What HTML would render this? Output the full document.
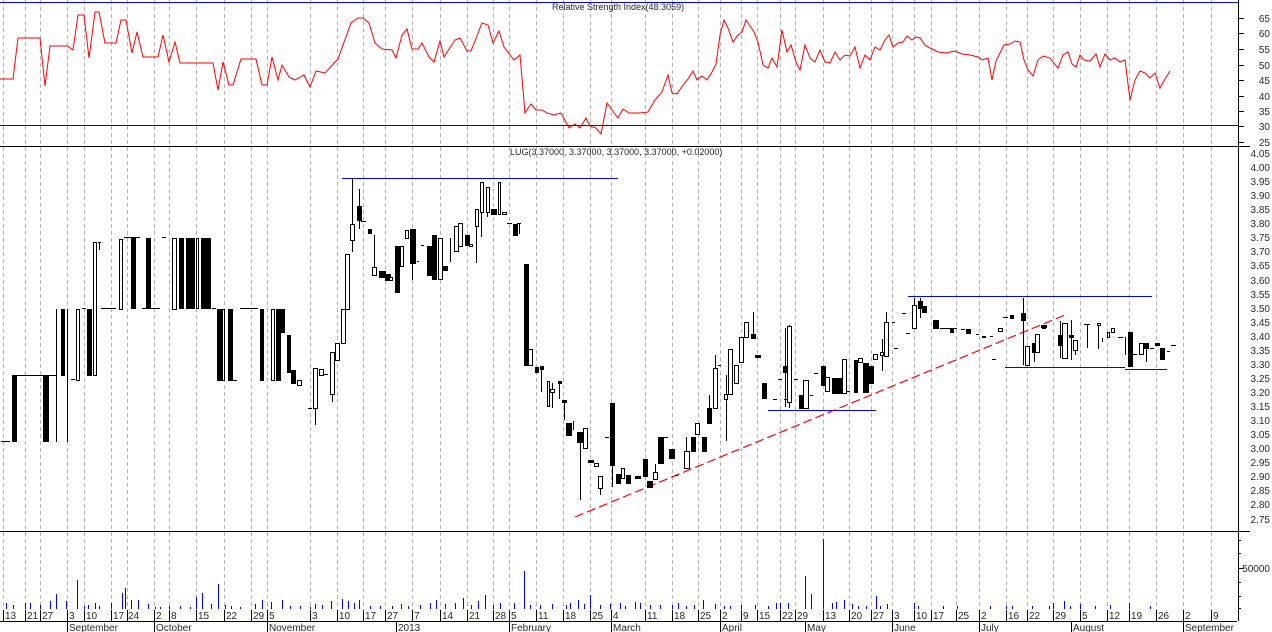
<!DOCTYPE html>
<html><head><meta charset="utf-8"><style>
html,body{margin:0;padding:0;background:#fff;}
svg{display:block;font-family:"Liberation Sans",Arial,sans-serif;}
.g{stroke:#b4b4b4;stroke-width:1;stroke-dasharray:4,3;}
.f{fill:#000;stroke:#000;stroke-width:1;}
.h{fill:#fff;stroke:#000;stroke-width:1;}
.w{stroke:#000;stroke-width:1;fill:none;}
.lab{font-size:10px;fill:#2a2a2a;}
</style></head><body>
<svg width="1272" height="632" viewBox="0 0 1272 632" xmlns="http://www.w3.org/2000/svg">
<defs>
<pattern id="pr" width="8" height="2.812" patternUnits="userSpaceOnUse" patternTransform="translate(0,153.5)"><line x1="1238" y1="0.5" x2="1241" y2="0.5" stroke="#000"/></pattern>
<pattern id="rs" width="8" height="3.09" patternUnits="userSpaceOnUse" patternTransform="translate(0,18.5)"><line x1="1238" y1="0.5" x2="1241" y2="0.5" stroke="#000"/></pattern>
</defs>
<rect width="1272" height="632" fill="#fff"/>
<!-- gridlines -->
<g class="g">
<path d="M3.5 0V621M25.5 0V621M40.5 0V621M67.5 0V621M84.5 0V621M111.5 0V621M127.5 0V621M154.5 0V621M169.5 0V621M196.5 0V621M224.5 0V621M251.5 0V621M267.5 0V621M310.5 0V621M337.5 0V621M363.5 0V621M385.5 0V621M412.5 0V621M440.5 0V621M467.5 0V621M493.5 0V621M509.5 0V621M536.5 0V621M563.5 0V621M590.5 0V621M611.5 0V621M645.5 0V621M672.5 0V621M698.5 0V621M720.5 0V621M741.5 0V621M757.5 0V621M780.5 0V621M795.5 0V621M823.5 0V621M849.5 0V621M871.5 0V621M892.5 0V621M914.5 0V621M931.5 0V621M956.5 0V621M979.5 0V621M1006.5 0V621M1027.5 0V621M1053.5 0V621M1080.5 0V621M1107.5 0V621M1129.5 0V621M1156.5 0V621M1183.5 0V621M1211.5 0V621"/>
</g>
<!-- RSI panel -->
<line x1="0" y1="2.5" x2="1238" y2="2.5" stroke="#0000ff"/>
<line x1="0" y1="125.5" x2="1238" y2="125.5" stroke="#0000ff"/>
<polyline fill="none" stroke="#ff0000" stroke-width="1" points="0,79 13,79 18,38 40,38 45,86 50,46 67,46 73,50 78,15 84,15 89,58 95,12 99,12 105,43 116,43 121,20 126,20 132,53 137,32 143,57 158,57 163,35 169,62 175,42 180,63 213,63 218,90 223,62 229,85 233,85 241,59 256,59 262,85 267,85 272,57 278,80 282,65 289,77 295,80 304,75 310,87 316,71 325,73 338,59 351,23 358,18 363,18 369,23 375,43 382,49 392,50 396,58 402,35 407,29 412,49 418,49 422,43 429,57 434,62 440,41 444,57 455,40 460,38 467,51 471,51 482,23 488,25 493,43 499,31 504,47 514,60 520,55 525,113 531,104 536,110 542,110 547,113 554,115 561,113 569,128 575,124 580,128 586,118 590,126 596,128 601,134 607,103 612,110 618,118 623,109 629,113 640,113 648,112 655,100 662,92 668,75 672,93 677,94 683,85 688,79 693,71 697,80 702,76 707,80 712,72 716,64 720,35 724,20 728,28 733,42 738,35 742,32 746,20 750,26 754,32 758,42 763,65 768,68 772,58 777,67 782,30 787,52 791,45 796,62 800,70 805,45 810,58 815,62 820,50 825,62 830,63 835,52 840,60 845,55 850,56 855,47 860,68 865,55 870,60 875,47 880,50 885,40 889,35 893,47 898,43 903,42 907,36 912,40 916,37 920,38 925,45 930,48 938,52 946,53 955,51 962,54 970,55 978,57 982,60 988,58 992,80 996,61 1004,45 1010,44 1015,41 1020,42 1024,60 1028,70 1033,76 1038,60 1043,56 1050,58 1058,68 1063,55 1068,52 1072,64 1076,67 1080,55 1084,60 1090,61 1096,54 1100,67 1105,54 1110,60 1115,58 1120,62 1125,60 1130,100 1135,80 1140,71 1145,73 1150,78 1155,73 1160,88 1165,79 1170,71"/>
<text x="552" y="10" class="lab" font-size="9" style="font-size:9px">Relative Strength Index(48.3059)</text>
<line x1="0" y1="146.5" x2="1250" y2="146.5" stroke="#000"/>
<text x="510" y="155" class="lab" style="font-size:9px">LUG(3.37000, 3.37000, 3.37000, 3.37000, +0.02000)</text>
<!-- blue levels -->
<g stroke="#0000ff" stroke-width="1">
<line x1="342" y1="178.5" x2="618" y2="178.5"/>
<line x1="768" y1="410.5" x2="876" y2="410.5"/>
<line x1="908" y1="296.5" x2="1152" y2="296.5"/>
<line x1="1005" y1="367.5" x2="1125" y2="367.5"/>
<line x1="1125" y1="369.5" x2="1167" y2="369.5"/>
</g>
<line x1="575" y1="517" x2="1065" y2="315" stroke="#ff0000" stroke-width="1.2" stroke-dasharray="9,4"/>
<!-- wicks -->
<path class="w" d="M56.5 309V442M67.5 309V442M352.5 178V252M359.5 189V229M374.5 235V271M412.5 263V280M450.5 238V262M476.5 222V263M481.5 212V237M487.5 212V217M519.5 223V234M541.5 366V392M548.5 381V406M552.5 383V408M559.5 381V399M564.5 400V420M573.5 421V430M580.5 432V500M585.5 428V448M600.5 488V495M612.5 465V487M655.5 464V472M686.5 437V451M709.5 395V408M715.5 355V368M726.5 375V441M753.5 312V334M785.5 328V407M789.5 325V408M882.5 339V371M886.5 312V322M914.5 298V318M920.5 298V318M1023.5 298V365M1034.5 352V362M1060.5 321V358M1071.5 320V360M1075.5 350V355M1087.5 325V348M1098.5 325V349M1102.5 338V342M1125.5 337V355M1146.5 348V362M315.5 408V425M332.5 394V402M99.5 242V250"/>
<!-- dashes -->
<path class="w" d="M1 441.5H10M17 375.5H43M48 375.5H56M71 379.5H75M82 308.5H86M98 242.5H101M101 308.5H116M124 237.5H140M142 308.5H160M162 237.5H166M212 308.5H216M232 380.5H237M240 308.5H258M298 380.5H302M308 408.5H312M324 374.5H328M361 221.5H366M417 261.5H419M421 245.5H424M507 223.5H512M517 223.5H521M605 437.5H609M664 437.5H668M675 475.5H678M718 365.5H721M778 379.5H782M773 399.5H777M784 399.5H788M794 379.5H798M810 395.5H813M814 373.5H818M847 391.5H850M892 322.5H895M894 348.5H898M902 313.5H906M906 333.5H910M940 328.5H957M961 329.5H965M976 334.5H979M990 336.5H993M1003 317.5H1008M992 359.5H996M1042 328.5H1046M1084 324.5H1090M1118 337.5H1123M1133 354.5H1137M1150 348.5H1154M1167 351.5H1170M1171 345.5H1176"/>
<!-- filled bodies -->
<g class="f">
<rect x="12.5" y="375.5" width="4" height="66"/><rect x="43.5" y="375.5" width="5" height="66"/><rect x="61.5" y="309.5" width="3" height="66"/><rect x="87.5" y="309.5" width="4" height="66"/><rect x="131.5" y="238.5" width="4" height="70"/><rect x="146.5" y="238.5" width="4" height="70"/><rect x="179.5" y="238.5" width="4" height="70"/><rect x="186.5" y="238.5" width="3" height="70"/><rect x="190.5" y="238.5" width="4" height="70"/><rect x="201.5" y="238.5" width="9" height="70"/><rect x="217.5" y="309.5" width="5" height="71"/><rect x="228.5" y="309.5" width="4" height="71"/><rect x="260.5" y="309.5" width="3" height="71"/><rect x="276.5" y="309.5" width="4" height="71"/><rect x="280.5" y="309.5" width="4" height="23"/><rect x="287.5" y="335.5" width="3" height="37"/><rect x="291.5" y="370.5" width="4" height="13"/><rect x="357.5" y="206.5" width="4" height="14"/><rect x="368.5" y="229.5" width="3" height="4"/><rect x="379.5" y="271.5" width="6" height="6"/><rect x="385.5" y="274.5" width="5" height="6"/><rect x="395.5" y="246.5" width="4" height="46"/><rect x="410.5" y="229.5" width="5" height="34"/><rect x="427.5" y="246.5" width="4" height="29"/><rect x="432.5" y="235.5" width="4" height="44"/><rect x="443.5" y="266.5" width="4" height="4"/><rect x="465.5" y="235.5" width="4" height="10"/><rect x="491.5" y="209.5" width="5" height="5"/><rect x="513.5" y="224.5" width="4" height="11"/><rect x="524.5" y="264.5" width="4" height="101"/><rect x="535.5" y="367.5" width="3" height="5"/><rect x="540.5" y="366.5" width="3" height="3"/><rect x="558.5" y="381.5" width="3" height="2"/><rect x="562.5" y="400.5" width="4" height="2"/><rect x="566.5" y="423.5" width="5" height="12"/><rect x="577.5" y="432.5" width="5" height="10"/><rect x="588.5" y="460.5" width="5" height="2"/><rect x="610.5" y="403.5" width="4" height="62"/><rect x="616.5" y="474.5" width="4" height="9"/><rect x="626.5" y="475.5" width="4" height="8"/><rect x="635.5" y="476.5" width="5" height="2"/><rect x="643.5" y="459.5" width="4" height="17"/><rect x="647.5" y="481.5" width="5" height="6"/><rect x="658.5" y="437.5" width="5" height="26"/><rect x="669.5" y="449.5" width="5" height="9"/><rect x="691.5" y="437.5" width="4" height="14"/><rect x="702.5" y="437.5" width="4" height="14"/><rect x="707.5" y="408.5" width="4" height="15"/><rect x="751.5" y="334.5" width="4" height="4"/><rect x="755.5" y="355.5" width="5" height="2"/><rect x="762.5" y="383.5" width="4" height="15"/><rect x="783.5" y="366.5" width="4" height="6"/><rect x="799.5" y="395.5" width="5" height="13"/><rect x="821.5" y="366.5" width="4" height="19"/><rect x="832.5" y="378.5" width="9" height="15"/><rect x="854.5" y="360.5" width="3" height="32"/><rect x="863.5" y="363.5" width="5" height="29"/><rect x="869.5" y="366.5" width="4" height="17"/><rect x="918.5" y="301.5" width="4" height="7"/><rect x="922.5" y="306.5" width="4" height="6"/><rect x="933.5" y="320.5" width="5" height="8"/><rect x="950.5" y="329.5" width="3" height="3"/><rect x="966.5" y="329.5" width="4" height="4"/><rect x="982.5" y="336.5" width="3" height="1"/><rect x="1010.5" y="315.5" width="3" height="3"/><rect x="1021.5" y="313.5" width="4" height="7"/><rect x="1032.5" y="343.5" width="3" height="9"/><rect x="1041.5" y="325.5" width="5" height="2"/><rect x="1058.5" y="335.5" width="5" height="10"/><rect x="1069.5" y="335.5" width="4" height="2"/><rect x="1128.5" y="332.5" width="4" height="34"/><rect x="1144.5" y="343.5" width="4" height="5"/><rect x="1155.5" y="343.5" width="4" height="2"/><rect x="1160.5" y="348.5" width="4" height="11"/>
</g>
<!-- hollow bodies -->
<g class="h">
<rect x="76.5" y="309.5" width="3" height="71"/><rect x="93.5" y="242.5" width="3" height="133"/><rect x="119.5" y="239.5" width="3" height="70"/><rect x="172.5" y="238.5" width="4" height="71"/><rect x="196.5" y="238.5" width="2" height="70"/><rect x="222.5" y="309.5" width="2" height="71"/><rect x="271.5" y="309.5" width="3" height="71"/><rect x="297.5" y="380.5" width="4" height="5"/><rect x="313.5" y="368.5" width="4" height="40"/><rect x="319.5" y="369.5" width="4" height="6"/><rect x="330.5" y="352.5" width="4" height="42"/><rect x="335.5" y="343.5" width="4" height="17"/><rect x="341.5" y="309.5" width="4" height="34"/><rect x="345.5" y="254.5" width="4" height="55"/><rect x="350.5" y="224.5" width="4" height="16"/><rect x="372.5" y="267.5" width="4" height="8"/><rect x="389.5" y="277.5" width="3" height="3"/><rect x="400.5" y="246.5" width="3" height="20"/><rect x="405.5" y="230.5" width="3" height="8"/><rect x="438.5" y="238.5" width="4" height="41"/><rect x="454.5" y="226.5" width="4" height="25"/><rect x="458.5" y="223.5" width="4" height="23"/><rect x="469.5" y="244.5" width="3" height="2"/><rect x="475.5" y="209.5" width="3" height="17"/><rect x="480.5" y="182.5" width="3" height="30"/><rect x="486.5" y="187.5" width="3" height="25"/><rect x="498.5" y="182.5" width="2" height="32"/><rect x="502.5" y="212.5" width="4" height="2"/><rect x="528.5" y="349.5" width="4" height="16"/><rect x="547.5" y="381.5" width="2" height="25"/><rect x="550.5" y="389.5" width="4" height="3"/><rect x="583.5" y="428.5" width="4" height="20"/><rect x="594.5" y="463.5" width="4" height="3"/><rect x="598.5" y="476.5" width="4" height="12"/><rect x="621.5" y="468.5" width="3" height="10"/><rect x="653.5" y="472.5" width="4" height="7"/><rect x="684.5" y="451.5" width="5" height="17"/><rect x="695.5" y="423.5" width="4" height="11"/><rect x="713.5" y="368.5" width="4" height="40"/><rect x="724.5" y="394.5" width="3" height="5"/><rect x="728.5" y="349.5" width="4" height="45"/><rect x="734.5" y="365.5" width="4" height="18"/><rect x="739.5" y="337.5" width="4" height="25"/><rect x="744.5" y="322.5" width="4" height="15"/><rect x="787.5" y="326.5" width="4" height="76"/><rect x="803.5" y="380.5" width="5" height="28"/><rect x="825.5" y="377.5" width="4" height="14"/><rect x="842.5" y="359.5" width="4" height="34"/><rect x="858.5" y="358.5" width="4" height="4"/><rect x="873.5" y="354.5" width="4" height="5"/><rect x="880.5" y="352.5" width="3" height="3"/><rect x="884.5" y="322.5" width="4" height="34"/><rect x="912.5" y="305.5" width="4" height="23"/><rect x="998.5" y="328.5" width="4" height="3"/><rect x="1025.5" y="346.5" width="4" height="19"/><rect x="1035.5" y="334.5" width="4" height="18"/><rect x="1062.5" y="323.5" width="5" height="35"/><rect x="1073.5" y="340.5" width="4" height="10"/><rect x="1097.5" y="323.5" width="3" height="2"/><rect x="1107.5" y="332.5" width="2" height="5"/><rect x="1111.5" y="328.5" width="3" height="4"/><rect x="1139.5" y="343.5" width="4" height="11"/>
</g>
<line x1="0" y1="531.5" x2="1250" y2="531.5" stroke="#000"/>
<!-- volume -->
<path stroke="#0000ff" stroke-width="1" fill="none" d="M6.5 609V603M13.5 609V605M25.5 609V603M30.5 609V603M40.5 609V605M50.5 609V601M56.5 609V594M66.5 609V601M77.5 609V580M84.5 609V606M88.5 609V605M95.5 609V603M99.5 609V606M111.5 609V603M122.5 609V593M125.5 609V588M131.5 609V600M138.5 609V600M148.5 609V604M155.5 609V607M160.5 609V607M169.5 609V606M180.5 609V606M190.5 609V607M196.5 609V597M202.5 609V593M211.5 609V604M218.5 609V584M225.5 609V605M231.5 609V606M240.5 609V607M255.5 609V604M262.5 609V600M271.5 609V602M282.5 609V600M290.5 609V606M300.5 609V606M310.5 609V607M315.5 609V604M322.5 609V605M331.5 609V601M342.5 609V599M348.5 609V601M354.5 609V603M359.5 609V600M370.5 609V606M380.5 609V606M392.5 609V606M401.5 609V604M408.5 609V606M420.5 609V605M430.5 609V603M436.5 609V600M445.5 609V604M455.5 609V603M463.5 609V598M471.5 609V605M478.5 609V601M485.5 609V595M493.5 609V605M500.5 609V603M514.5 609V603M524.5 609V571M530.5 609V605M540.5 609V605M552.5 609V604M566.5 609V605M570.5 609V603M578.5 609V600M584.5 609V604M590.5 609V595M600.5 609V605M610.5 609V604M620.5 609V603M625.5 609V606M635.5 609V602M640.5 609V603M650.5 609V605M660.5 609V605M672.5 609V605M678.5 609V603M686.5 609V606M694.5 609V605M703.5 609V600M715.5 609V604M724.5 609V606M730.5 609V606M741.5 609V605M755.5 609V605M768.5 609V606M776.5 609V603M780.5 609V603M788.5 609V603M805.5 609V576M811.5 609V594M823.5 609V539M832.5 609V603M836.5 609V602M844.5 609V600M852.5 609V604M858.5 609V606M866.5 609V606M876.5 609V596M880.5 609V606M887.5 609V604M914.5 609V603M918.5 609V606M943.5 609V606M957.5 609V606M990.5 609V606M1006.5 609V606M1012.5 609V606M1032.5 609V606M1049.5 609V606M1053.5 609V603M1064.5 609V601M1070.5 609V606M1080.5 609V604M1095.5 609V606M1110.5 609V605M1129.5 609V603M1150.5 609V606"/>
<!-- date axis -->
<line x1="0" y1="621.5" x2="1237" y2="621.5" stroke="#000"/>
<path class="w" d="M3.5 610V621M25.5 610V621M40.5 610V621M67.5 610V632M84.5 610V621M111.5 610V621M127.5 610V621M154.5 610V632M169.5 610V621M196.5 610V621M224.5 610V621M251.5 610V621M267.5 610V632M310.5 610V621M337.5 610V621M363.5 610V621M385.5 610V621M396.5 621V632M412.5 610V621M440.5 610V621M467.5 610V621M493.5 610V621M509.5 610V632M536.5 610V621M563.5 610V621M590.5 610V621M611.5 610V632M645.5 610V621M672.5 610V621M698.5 610V621M720.5 610V632M741.5 610V621M757.5 610V621M780.5 610V621M795.5 610V621M805.5 621V632M823.5 610V621M849.5 610V621M871.5 610V621M892.5 610V632M914.5 610V621M931.5 610V621M956.5 610V621M979.5 610V632M1006.5 610V621M1027.5 610V621M1053.5 610V621M1071.5 621V632M1080.5 610V621M1107.5 610V621M1129.5 610V621M1156.5 610V621M1183.5 610V632M1211.5 610V621"/>
<g class="lab">
<text x="5" y="619">13</text><text x="27" y="619">21</text><text x="42" y="619">27</text><text x="69" y="619">3</text><text x="86" y="619">10</text><text x="113" y="619">17</text><text x="128" y="619">24</text><text x="156" y="619">2</text><text x="171" y="619">8</text><text x="198" y="619">15</text><text x="226" y="619">22</text><text x="253" y="619">29</text><text x="269" y="619">5</text><text x="312" y="619">3</text><text x="339" y="619">10</text><text x="365" y="619">17</text><text x="387" y="619">27</text><text x="414" y="619">7</text><text x="442" y="619">14</text><text x="469" y="619">21</text><text x="495" y="619">28</text><text x="511" y="619">5</text><text x="538" y="619">11</text><text x="565" y="619">18</text><text x="592" y="619">25</text><text x="613" y="619">4</text><text x="647" y="619">11</text><text x="674" y="619">18</text><text x="700" y="619">25</text><text x="722" y="619">2</text><text x="743" y="619">9</text><text x="759" y="619">15</text><text x="782" y="619">22</text><text x="797" y="619">29</text><text x="825" y="619">13</text><text x="851" y="619">20</text><text x="873" y="619">27</text><text x="894" y="619">3</text><text x="916" y="619">10</text><text x="933" y="619">17</text><text x="958" y="619">25</text><text x="981" y="619">2</text><text x="1008" y="619">16</text><text x="1029" y="619">22</text><text x="1055" y="619">29</text><text x="1082" y="619">5</text><text x="1109" y="619">12</text><text x="1131" y="619">19</text><text x="1158" y="619">26</text><text x="1185" y="619">2</text><text x="1213" y="619">9</text>
<text x="69" y="631">September</text><text x="156" y="631">October</text><text x="269" y="631">November</text><text x="398" y="631">2013</text><text x="511" y="631">February</text><text x="613" y="631">March</text><text x="722" y="631">April</text><text x="807" y="631">May</text><text x="894" y="631">June</text><text x="981" y="631">July</text><text x="1073" y="631">August</text><text x="1185" y="631">September</text>
</g>
<!-- right axis -->
<line x1="1238.5" y1="0" x2="1238.5" y2="621" stroke="#000"/>
<rect x="1238" y="3" width="6" height="141" fill="url(#rs)"/>
<rect x="1238" y="150" width="6" height="376" fill="url(#pr)"/>
<path class="w" d="M1238 18.5H1244M1238 33.5H1244M1238 49.5H1244M1238 65.5H1244M1238 80.5H1244M1238 96.5H1244M1238 111.5H1244M1238 126.5H1244M1238 142.5H1244M1238 568.5H1244M1238 540.5H1241M1238 553.5H1241M1238 582.5H1241M1238 596.5H1241M1238 608.5H1241"/>
<g class="lab" text-anchor="end">
<text x="1270" y="22">65</text><text x="1270" y="37">60</text><text x="1270" y="53">55</text><text x="1270" y="69">50</text><text x="1270" y="84">45</text><text x="1270" y="100">40</text><text x="1270" y="115">35</text><text x="1270" y="130">30</text><text x="1270" y="146">25</text>
<text x="1270" y="157">4.05</text><text x="1270" y="171">4.00</text><text x="1270" y="185">3.95</text><text x="1270" y="199">3.90</text><text x="1270" y="213">3.85</text><text x="1270" y="227">3.80</text><text x="1270" y="241">3.75</text><text x="1270" y="255">3.70</text><text x="1270" y="269">3.65</text><text x="1270" y="284">3.60</text><text x="1270" y="298">3.55</text><text x="1270" y="312">3.50</text><text x="1270" y="326">3.45</text><text x="1270" y="340">3.40</text><text x="1270" y="354">3.35</text><text x="1270" y="368">3.30</text><text x="1270" y="382">3.25</text><text x="1270" y="396">3.20</text><text x="1270" y="410">3.15</text><text x="1270" y="424">3.10</text><text x="1270" y="438">3.05</text><text x="1270" y="452">3.00</text><text x="1270" y="466">2.95</text><text x="1270" y="480">2.90</text><text x="1270" y="494">2.85</text><text x="1270" y="508">2.80</text><text x="1270" y="523">2.75</text>
<text x="1270" y="572">50000</text>
</g>
</svg>
</body></html>
